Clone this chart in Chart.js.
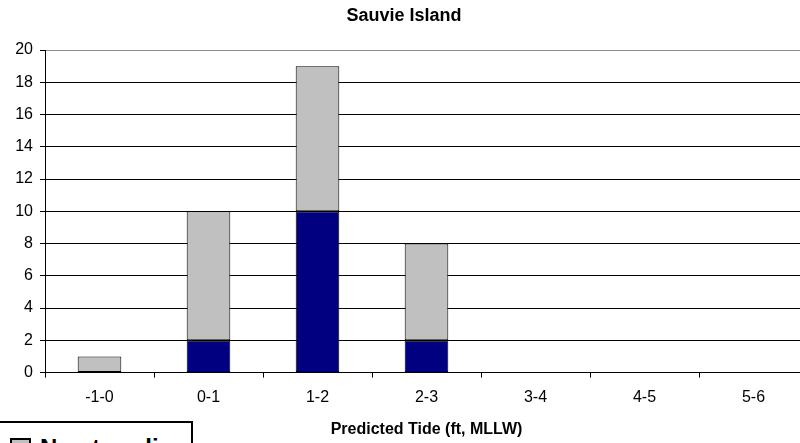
<!DOCTYPE html>
<html>
<head>
<meta charset="utf-8">
<script src="https://cdn.jsdelivr.net/npm/chart.js@4/dist/chart.umd.min.js"></script>
<style>
  html, body { margin: 0; padding: 0; background: #fff; }
  body { width: 800px; height: 443px; overflow: hidden; position: relative; }
  #wrap { position: absolute; left: -20px; top: 0; width: 830px; height: 443px; }
  #legend {
    position: absolute; left: -3px; top: 421px; width: 196px; height: 80px;
    border: 2px solid #000; background: #fff; box-sizing: border-box;
    font-family: "Liberation Sans", Arial, sans-serif; font-weight: bold; font-size: 24px;
  }
  #legend .row { display: flex; align-items: center; height: 30px; margin-left: 11px; margin-top: 10px; }
  #legend .sw { width: 21px; height: 21px; border: 2px solid #000; box-sizing: border-box; margin-right: 9px; }
</style>
</head>
<body>
<div id="wrap"><canvas id="c" width="830" height="443"></canvas></div>
<div id="legend"></div>
<script>
// Tide ranges (ft, MLLW) and counts per range
const tideBins = ['-1-0', '0-1', '1-2', '2-3', '3-4', '4-5', '5-6'];
const stranding = [0, 2, 10, 2, 0, 0, 0];
const noStranding = [1, 8, 9, 6, 0, 0, 0];
const yTicks = [0, 2, 4, 6, 8, 10, 12, 14, 16, 18, 20];

const FONT = '"Liberation Sans", Arial, sans-serif';

// empty segments get no outline
const outline = ctx => (ctx.raw ? 1 : 0);

const chart = new Chart(document.getElementById('c'), {
  type: 'bar',
  data: {
    labels: tideBins,
    datasets: [
      { label: 'Stranding', data: stranding, backgroundColor: '#000080',
        borderColor: '#000', borderWidth: outline, borderSkipped: false },
      { label: 'No stranding', data: noStranding, backgroundColor: '#C0C0C0',
        borderColor: '#000', borderWidth: outline, borderSkipped: false }
    ]
  },
  options: {
    responsive: false,
    animation: false,
    layout: { padding: { left: 20, right: 2, top: 0, bottom: 0 } },
    datasets: { bar: { barPercentage: 0.4, categoryPercentage: 1.0 } },
    plugins: {
      legend: { display: false },
      tooltip: { enabled: false },
      title: {
        display: true, text: 'Sauvie Island', color: '#000',
        font: { family: FONT, size: 18, weight: 'bold' },
        padding: { top: 5, bottom: 23.4 }
      }
    },
    scales: {
      x: {
        stacked: true,
        grid: { display: true, drawOnChartArea: false, offset: true, tickLength: 5,
                color: '#000', tickColor: '#000' },
        border: { display: true, color: '#000', width: 1 },
        ticks: { color: '#000', padding: 10, font: { family: FONT, size: 16 }, maxRotation: 0 },
        title: { display: true, text: 'Predicted Tide (ft, MLLW)', color: '#000',
                 font: { family: FONT, size: 16, weight: 'bold' },
                 padding: { top: 3, bottom: 4 } }
      },
      y: {
        stacked: true,
        min: 0, max: 20,
        afterFit(scale) { scale.width = 45; },
        afterBuildTicks(scale) { scale.ticks = yTicks.map(v => ({ value: v })); },
        grid: { tickLength: 5, tickColor: '#000',
                color: ctx => (ctx.tick && ctx.tick.value === 20) ? '#8c8c8c' : '#000' },
        border: { display: true, color: '#000', width: 1 },
        ticks: { color: '#000', padding: 7, font: { family: FONT, size: 16 } }
      }
    }
  }
});

// Legend box built from the chart's datasets (grey entry first)
const legend = document.getElementById('legend');
chart.data.datasets.slice().reverse().forEach(ds => {
  const row = document.createElement('div');
  row.className = 'row';
  const sw = document.createElement('span');
  sw.className = 'sw';
  sw.style.background = ds.backgroundColor;
  const txt = document.createElement('span');
  txt.textContent = ds.label;
  row.appendChild(sw);
  row.appendChild(txt);
  legend.appendChild(row);
});
</script>
</body>
</html>
